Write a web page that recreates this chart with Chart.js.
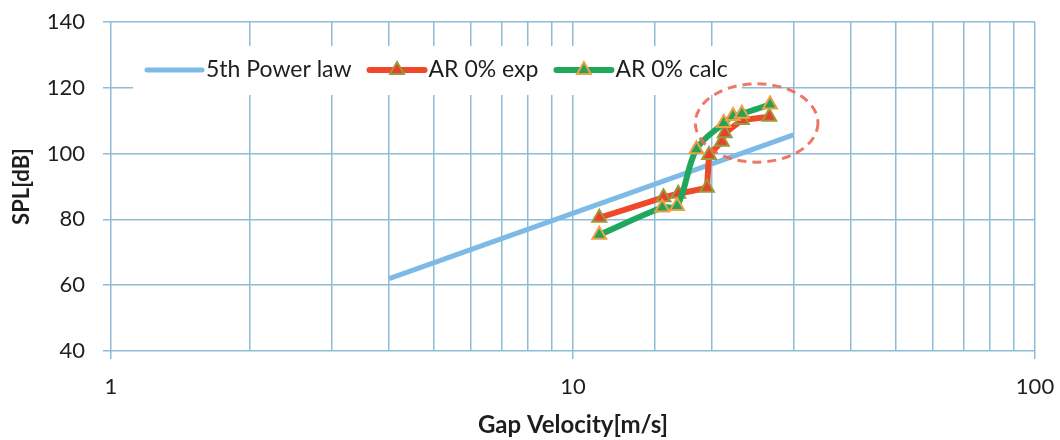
<!DOCTYPE html>
<html>
<head>
<meta charset="utf-8">
<script src="https://cdn.jsdelivr.net/npm/chart.js@4.4.1/dist/chart.umd.min.js"></script>
<style>
  html, body { margin: 0; padding: 0; background: #ffffff; }
  #wrap { width: 1060px; height: 440px; position: relative; }
</style>
</head>
<body>
<div id="wrap"><canvas id="c"></canvas></div>
<script>
// Reference slope: SPL rising with the 5th power of gap velocity
const powerLawV   = [4, 30];
const powerLawSPL = [62.0, 105.7];

// AR 0% measured
const expV   = [11.4, 15.7, 16.9, 19.5, 19.7, 21.0, 21.3, 23.2, 26.6];
const expSPL = [80.5, 86.7, 87.8, 89.6, 99.6, 103.6, 106.2, 110.2, 111.2];

// AR 0% calculated
const calcV   = [11.4, 15.6, 16.8, 18.5, 21.2, 22.2, 23.2, 26.7];
const calcSPL = [75.3, 83.6, 84.1, 101.3, 109.3, 111.4, 112.1, 114.9];

const seriesNames = ['5th Power law', 'AR 0% exp', 'AR 0% calc'];

const xTickLabels = [1, 10, 100];
const yTickValues = [40, 60, 80, 100, 120, 140];

// highlighted region (velocity range, SPL range) marked with a dashed ring
const highlightV   = [18.4, 33.9];
const highlightSPL = [97.4, 121.2];

const FONT = 'Lato, "Open Sans", sans-serif';
const GRID = '#8fbbd6';
const TEXT = '#1e1e1e';

const toPoints = (xs, ys) => xs.map((x, i) => ({ x: x, y: ys[i] }));

function drawTriangle(ctx, x, y, r, fill, stroke, bw) {
  ctx.beginPath();
  let a = 0;
  ctx.moveTo(x + Math.sin(a) * r, y - Math.cos(a) * r);
  a += 2 * Math.PI / 3;
  ctx.lineTo(x + Math.sin(a) * r, y - Math.cos(a) * r);
  a += 2 * Math.PI / 3;
  ctx.lineTo(x + Math.sin(a) * r, y - Math.cos(a) * r);
  ctx.closePath();
  ctx.fillStyle = fill;
  ctx.fill();
  ctx.lineWidth = bw;
  ctx.strokeStyle = stroke;
  ctx.stroke();
}

// Legend drawn inside the plot, on a white panel above the grid
const insetLegend = {
  id: 'insetLegend',
  beforeDatasetsDraw(chart) {
    const { ctx, chartArea } = chart;
    ctx.save();
    ctx.font = '23px ' + FONT;
    const lineLen = 55, gapText = 4, gapItem = 18;
    const startX = chartArea.left + 36;
    const cy = chartArea.top + 48;
    const items = chart.data.datasets.map(ds => ({ ds, w: ctx.measureText(ds.label).width }));
    const total = items.reduce((s, it) => s + lineLen + gapText + it.w, 0) + gapItem * (items.length - 1);
    ctx.fillStyle = '#ffffff';
    ctx.fillRect(startX - 14, chartArea.top + 24, total + 28, 49);

    let x = startX;
    items.forEach(({ ds, w }) => {
      ctx.beginPath();
      ctx.moveTo(x, cy);
      ctx.lineTo(x + lineLen, cy);
      ctx.lineWidth = ds.borderWidth;
      ctx.strokeStyle = ds.borderColor;
      ctx.lineCap = 'round';
      ctx.stroke();
      if (ds.pointRadius > 0) {
        drawTriangle(ctx, x + lineLen / 2, cy, ds.pointRadius, ds.pointBackgroundColor, ds.pointBorderColor, ds.pointBorderWidth);
      }
      ctx.fillStyle = TEXT;
      ctx.textAlign = 'left';
      ctx.textBaseline = 'middle';
      ctx.fillText(ds.label, x + lineLen + gapText, cy);
      x += lineLen + gapText + w + gapItem;
    });
    ctx.restore();
  },
  afterDatasetsDraw(chart) {
    const { ctx } = chart;
    const xs = chart.scales.x, ys = chart.scales.y;
    const x0 = xs.getPixelForValue(highlightV[0]);
    const x1 = xs.getPixelForValue(highlightV[1]);
    const y0 = ys.getPixelForValue(highlightSPL[1]);
    const y1 = ys.getPixelForValue(highlightSPL[0]);
    ctx.save();
    ctx.beginPath();
    ctx.ellipse((x0 + x1) / 2, (y0 + y1) / 2, (x1 - x0) / 2, (y1 - y0) / 2, 0, 0, 2 * Math.PI);
    ctx.setLineDash([9, 6]);
    ctx.lineWidth = 3;
    ctx.strokeStyle = 'rgba(238, 104, 84, 0.9)';
    ctx.stroke();
    ctx.restore();
  }
};

new Chart(document.getElementById('c'), {
  type: 'scatter',
  data: {
    datasets: [
      {
        label: seriesNames[0],
        data: toPoints(powerLawV, powerLawSPL),
        showLine: true,
        borderColor: '#7dbbe6',
        borderWidth: 5,
        pointRadius: 0,
        order: 3
      },
      {
        label: seriesNames[1],
        data: toPoints(expV, expSPL),
        showLine: true,
        borderColor: '#ee4a2a',
        borderWidth: 6,
        tension: 0,
        pointStyle: 'triangle',
        pointRadius: 8,
        pointBackgroundColor: '#e8402a',
        pointBorderColor: '#9a9a3c',
        pointBorderWidth: 2,
        order: 2
      },
      {
        label: seriesNames[2],
        data: toPoints(calcV, calcSPL),
        showLine: true,
        borderColor: '#1fa85c',
        borderWidth: 6,
        tension: 0.35,
        pointStyle: 'triangle',
        pointRadius: 8,
        pointBackgroundColor: '#22a35a',
        pointBorderColor: '#eea043',
        pointBorderWidth: 2,
        order: 1
      }
    ]
  },
  options: {
    responsive: true,
    maintainAspectRatio: false,
    animation: false,
    events: [],
    layout: { padding: { left: 0, right: 25, top: 22, bottom: 0 } },
    plugins: {
      legend: { display: false },
      tooltip: { enabled: false }
    },
    scales: {
      x: {
        type: 'logarithmic',
        min: 1,
        max: 100,
        afterFit(s) { s.height = 89; s.paddingLeft = 0; s.paddingRight = 0; },
        grid: {
          color: GRID,
          lineWidth: 1.5,
          tickLength: 8,
          tickColor: c => (c.tick && xTickLabels.includes(c.tick.value)) ? GRID : 'rgba(0,0,0,0)'
        },
        border: { display: false },
        ticks: {
          autoSkip: false,
          maxRotation: 0,
          padding: 15,
          color: TEXT,
          font: { family: FONT, size: 22 },
          callback: v => xTickLabels.includes(v) ? String(v) : ''
        },
        title: {
          display: true,
          text: 'Gap Velocity[m/s]',
          color: TEXT,
          font: { family: FONT, size: 24, weight: 'bold' },
          padding: { top: 0, bottom: 0 }
        }
      },
      y: {
        type: 'linear',
        min: yTickValues[0],
        max: yTickValues[yTickValues.length - 1],
        afterFit(s) { s.width = 111; s.paddingTop = 0; s.paddingBottom = 0; },
        afterBuildTicks(s) { s.ticks = yTickValues.map(v => ({ value: v })); },
        grid: { color: GRID, lineWidth: 1.5, tickLength: 8, tickColor: GRID },
        border: { display: false },
        ticks: {
          padding: 18,
          color: TEXT,
          font: { family: FONT, size: 22 }
        },
        title: {
          display: true,
          text: 'SPL[dB]',
          color: TEXT,
          font: { family: FONT, size: 22, weight: 'bold' },
          padding: { top: 9, bottom: 0 }
        }
      }
    }
  },
  plugins: [insetLegend]
});
</script>
</body>
</html>
